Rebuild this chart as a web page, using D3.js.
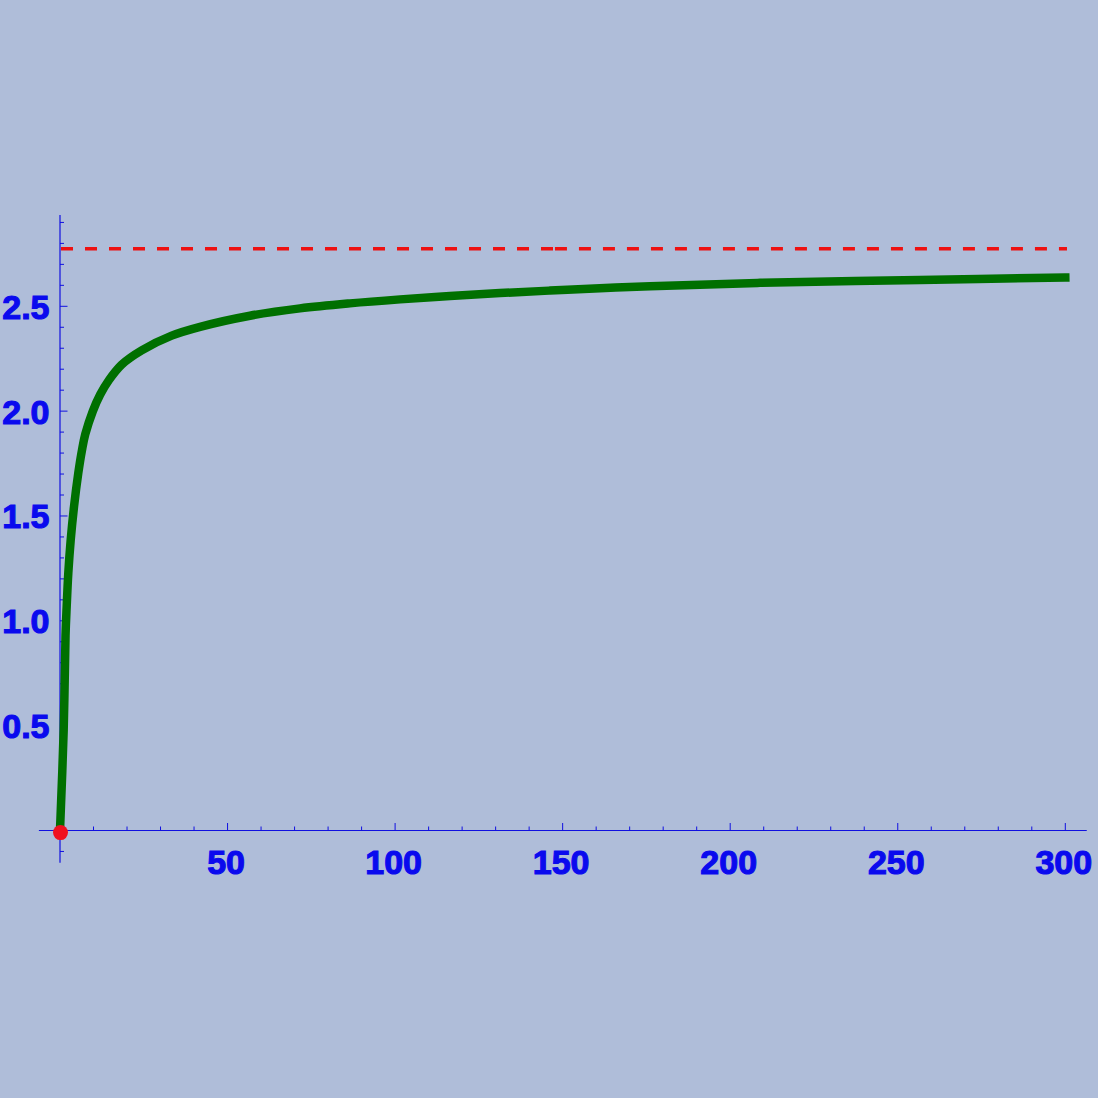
<!DOCTYPE html>
<html>
<head>
<meta charset="utf-8">
<script src="https://cdn.jsdelivr.net/npm/d3@7"></script>
<style>
  html, body { margin: 0; padding: 0; background: #afbdd9; }
  svg { display: block; }
</style>
</head>
<body>
<svg id="chart" width="1098" height="1098"></svg>
<script>
// ---- data ----
const curveX = [0, 1.1, 1.65, 2.0, 2.48, 3.19, 4.18, 5.46, 6.57, 7.55, 9.8, 12.0, 14.6, 18.41, 24.38, 33.33, 41.8, 56.7, 71.6, 86.5, 101.5, 116.4, 131.3, 146.2, 161.1, 176.1, 208.9, 256.6, 300];
const curveY = [0, 0.48, 0.93, 1.07, 1.228, 1.385, 1.544, 1.705, 1.815, 1.89, 2.0, 2.079, 2.148, 2.222, 2.29, 2.36, 2.402, 2.455, 2.49, 2.514, 2.533, 2.549, 2.563, 2.575, 2.586, 2.596, 2.612, 2.626, 2.637];
const asymptoteY = 2.775;
const asymptoteSegments = [[0.3, 147.7], [147.7, 300.5]];
const startPoint = [0, -0.01];
const xTickLabels = [50, 100, 150, 200, 250, 300];
const yTickLabels = [0.5, 1.0, 1.5, 2.0, 2.5];
const xMinorTicks = d3.range(10, 301, 10);
const yMinorTicks = d3.range(-1, 30).map(d => d / 10);
const xAxisExtent = [-6.3, 306.4];
const yAxisExtent = [-0.154, 2.935];

// ---- layout ----
const svg = d3.select("#chart");
const x = d3.scaleLinear().domain([0, 300]).range([60, 1065.3]);
const y = d3.scaleLinear().domain([0, 2.5]).range([830.5, 306.3]);

const axisColor = "#1010e0";
const labelColor = "#0a0aee";

svg.append("rect").attr("width", 1098).attr("height", 1098).attr("fill", "#afbdd9");

// axes lines
const g = svg.append("g");
g.append("line")
  .attr("x1", x(xAxisExtent[0])).attr("x2", x(xAxisExtent[1]))
  .attr("y1", y(0)).attr("y2", y(0))
  .attr("stroke", axisColor).attr("stroke-width", 1.2);
g.append("line")
  .attr("x1", x(0)).attr("x2", x(0))
  .attr("y1", y(yAxisExtent[0])).attr("y2", y(yAxisExtent[1]))
  .attr("stroke", axisColor).attr("stroke-width", 1.2);

// x ticks (pointing up)
g.selectAll(".xt").data(xMinorTicks).enter().append("line")
  .attr("x1", d => x(d)).attr("x2", d => x(d))
  .attr("y1", y(0)).attr("y2", d => y(0) - (d % 50 === 0 ? 7.5 : 4))
  .attr("stroke", axisColor).attr("stroke-width", 1);

// y ticks (pointing right)
g.selectAll(".yt").data(yMinorTicks.filter(d => Math.abs(d) > 1e-9)).enter().append("line")
  .attr("y1", d => y(d)).attr("y2", d => y(d))
  .attr("x1", x(0)).attr("x2", d => x(0) + (Math.abs(Math.round(d * 10) % 5) === 0 ? 7.5 : 4))
  .attr("stroke", axisColor).attr("stroke-width", 1);

// tick labels
const font = "'Liberation Sans', Arial, sans-serif";
g.selectAll(".xl").data(xTickLabels).enter().append("text")
  .attr("x", d => x(d) - 1.5).attr("y", 873.5)
  .attr("text-anchor", "middle")
  .attr("font-family", font).attr("font-weight", "bold").attr("font-size", 34)
  .attr("fill", labelColor).attr("stroke", labelColor).attr("stroke-width", 1.1)
  .text(d => d);
g.selectAll(".yl").data(yTickLabels).enter().append("text")
  .attr("x", 49.5).attr("y", d => y(d) + 12.5)
  .attr("text-anchor", "end")
  .attr("font-family", font).attr("font-weight", "bold").attr("font-size", 34)
  .attr("fill", labelColor).attr("stroke", labelColor).attr("stroke-width", 1.1)
  .text(d => d.toFixed(1));

// dashed asymptote
svg.selectAll(".asym").data(asymptoteSegments).enter().append("line")
  .attr("x1", d => x(d[0])).attr("x2", d => x(d[1]))
  .attr("y1", y(asymptoteY)).attr("y2", y(asymptoteY))
  .attr("stroke", "#ee1111").attr("stroke-width", 3.5)
  .attr("stroke-dasharray", "12,12");

// curve
const pts = curveX.map((d, i) => [d, curveY[i]]);
const line = d3.line().x(d => x(d[0])).y(d => y(d[1])).curve(d3.curveCatmullRom.alpha(0.5));
svg.append("path").datum(pts)
  .attr("d", line)
  .attr("fill", "none")
  .attr("stroke", "#007000")
  .attr("stroke-width", 8.5)
  .attr("stroke-linecap", "square")
  .attr("stroke-linejoin", "round");

// start point
svg.append("circle")
  .attr("cx", x(startPoint[0]) + 0.5).attr("cy", y(startPoint[1]))
  .attr("r", 7.5)
  .attr("fill", "#f0101e");
</script>
</body>
</html>
